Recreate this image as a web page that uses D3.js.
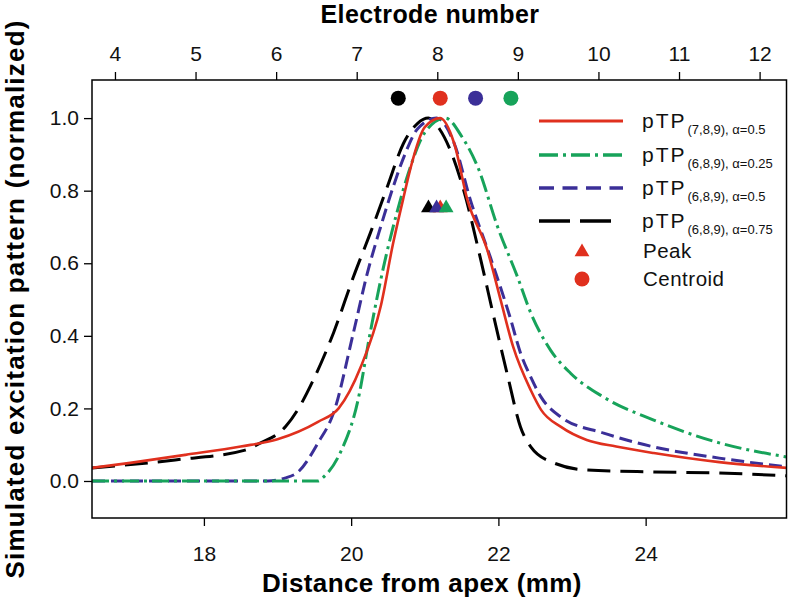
<!DOCTYPE html>
<html><head><meta charset="utf-8">
<script src="https://cdn.jsdelivr.net/npm/d3@7"></script>
<style>
body{margin:0;background:#fff;}
svg{display:block;font-family:"Liberation Sans",Arial,sans-serif;}
</style></head>
<body><svg id="chart" width="789" height="597"></svg>
<script>
// ---- data ----
const redX   = [16.48,17.0,17.75,18.5,19.0,19.55,19.83,20.13,20.4,20.57,20.71,20.81,21.0,21.21,21.4,21.58,21.85,22.03,22.2,22.44,22.58,22.85,23.2,23.6,24.11,25.0,25.92];
const redY   = [0.036,0.05,0.072,0.095,0.115,0.163,0.20,0.314,0.48,0.655,0.78,0.865,0.975,1.0,0.93,0.774,0.636,0.499,0.37,0.25,0.196,0.149,0.113,0.095,0.077,0.052,0.036];

const greenX = [16.48,19.55,19.62,19.85,20.09,20.26,20.44,20.63,20.78,21.0,21.28,21.5,21.72,21.99,22.26,22.44,22.71,22.98,23.43,24.11,25.0,25.92];
const greenY = [0,0,0.01,0.077,0.22,0.41,0.59,0.746,0.85,0.96,1.0,0.95,0.865,0.70,0.562,0.463,0.36,0.297,0.231,0.168,0.105,0.066];

const blueX  = [16.48,18.87,19.1,19.28,19.55,19.76,20.03,20.22,20.4,20.57,20.73,20.9,21.16,21.4,21.62,21.89,22.16,22.3,22.44,22.58,22.85,23.43,24.11,25.0,25.92];
const blueY  = [0,0,0.008,0.025,0.105,0.187,0.408,0.573,0.70,0.81,0.90,0.97,1.0,0.93,0.774,0.617,0.45,0.353,0.286,0.231,0.176,0.132,0.094,0.063,0.039];

const blackX = [16.48,17.61,18.56,18.75,19.11,19.3,19.49,19.76,20.03,20.26,20.49,20.71,20.9,21.05,21.2,21.35,21.53,21.76,21.94,22.13,22.3,22.44,22.75,23.21,24.11,25.0,25.92];
const blackY = [0.036,0.058,0.085,0.103,0.15,0.205,0.28,0.408,0.562,0.683,0.81,0.93,0.985,1.0,0.97,0.91,0.80,0.61,0.45,0.286,0.149,0.094,0.05,0.03,0.025,0.022,0.014];

const legendMain = ["pTP","pTP","pTP","pTP"];
const legendSub  = ["(7,8,9), α=0.5","(6,8,9), α=0.25","(6,8,9), α=0.5","(6,8,9), α=0.75"];
const peakX      = [21.21,21.29,21.16,21.05];   // red, green, blue, black
const peakLevel  = 0.755;
const centroidX  = [21.21,22.17,21.69,20.64];
const centroidLevel = 1.055;
const bottomTicks = [18,20,22,24];
const topTicks    = [4,5,6,7,8,9,10,11,12];
const leftTicks   = [0.0,0.2,0.4,0.6,0.8,1.0];

// ---- styles ----
const colors = ["#e0301e","#17a35a","#3b2f98","#000000"];
const dashes = [null,"17,5,3,5","13,6","23,10"];
const legendDashes = [null,"19,5,3,5","15,8.5","31,10"];
const legendEnd = [623,623,623,611];
const widths = [2.6,3,3,3];

const W=789,H=597;
const m={l:92,r:2,t:80,b:79};
const svg=d3.select("#chart");
const x=d3.scaleLinear().domain([16.48,25.92]).range([m.l,W-m.r]);
const xTop=d3.scaleLinear().domain([3.715,12.34]).range([m.l,W-m.r]);
const y=d3.scaleLinear().domain([-0.102,1.105]).range([H-m.b,m.t]);

svg.append("clipPath").attr("id","clip").append("rect")
  .attr("x",m.l).attr("y",m.t).attr("width",W-m.l-m.r).attr("height",H-m.t-m.b);

const data=[[redX,redY],[greenX,greenY],[blueX,blueY],[blackX,blackY]]
  .map(([xs,ys])=>xs.map((v,i)=>[v,ys[i]]));

const line=d3.line().x(d=>x(d[0])).y(d=>y(d[1])).curve(d3.curveMonotoneX);
const g=svg.append("g").attr("clip-path","url(#clip)");
[3,2,1,0].forEach(i=>{
  g.append("path").datum(data[i]).attr("d",line).attr("fill","none")
   .attr("stroke",colors[i]).attr("stroke-width",widths[i])
   .attr("stroke-dasharray",dashes[i]).attr("stroke-linecap","butt");
});

// markers
const tri=d3.symbol().type(d3.symbolTriangle).size(95);
[3,0,2,1].forEach(i=>{
  svg.append("path").attr("d",tri).attr("fill",colors[i])
    .attr("transform",`translate(${x(peakX[i])},${y(peakLevel)+1})`);
});
[3,0,2,1].forEach(i=>{
  svg.append("circle").attr("cx",x(centroidX[i])).attr("cy",y(centroidLevel)).attr("r",7.5).attr("fill",colors[i]);
});

// axes
const ax=svg.append("g");
const axBottom=ax.append("g").attr("transform",`translate(0,${H-m.b})`)
  .call(d3.axisBottom(x).tickValues(bottomTicks).tickSize(8).tickFormat(d3.format("d")));
axBottom.selectAll("text").attr("y",36).attr("dy","0.35em").attr("font-size",21);
const axTop=ax.append("g").attr("transform",`translate(0,${m.t})`)
  .call(d3.axisTop(xTop).tickValues(topTicks).tickSize(8).tickFormat(d3.format("d")));
axTop.selectAll("text").attr("y",-26).attr("dy","0.35em").attr("font-size",21);
const axLeft=ax.append("g").attr("transform",`translate(${m.l},0)`)
  .call(d3.axisLeft(y).tickValues(leftTicks).tickSize(8).tickFormat(d3.format(".1f")));
axLeft.selectAll("text").attr("x",-13).attr("font-size",21);
ax.selectAll(".domain").remove();
ax.selectAll(".tick line").attr("stroke","#000").attr("stroke-width",1.3);
ax.selectAll("text").attr("fill","#111").attr("font-family","'Liberation Sans',Arial,sans-serif");

svg.append("rect").attr("x",m.l).attr("y",m.t).attr("width",W-m.l-m.r-0.5).attr("height",H-m.t-m.b)
  .attr("fill","none").attr("stroke","#000").attr("stroke-width",1.5);

// titles
svg.append("text").attr("x",430).attr("y",23).attr("text-anchor","middle")
  .attr("font-size",25).attr("font-weight","bold").attr("letter-spacing",0.4).text("Electrode number");
svg.append("text").attr("x",422).attr("y",583).attr("dy","0.35em").attr("text-anchor","middle")
  .attr("font-size",26).attr("font-weight","bold").attr("letter-spacing",0.4).text("Distance from apex (mm)");
svg.append("text").attr("transform","translate(15,299) rotate(-90)").attr("dy","0.35em").attr("text-anchor","middle")
  .attr("font-size",26).attr("font-weight","bold").attr("letter-spacing",1.2).text("Simulated excitation pattern (normalized)");

// legend
const rowY=[121,155,188,221,251,279];
const lg=svg.append("g");
for(let i=0;i<4;i++){
  lg.append("line").attr("x1",539).attr("x2",legendEnd[i]).attr("y1",rowY[i]).attr("y2",rowY[i])
    .attr("stroke",colors[i]).attr("stroke-width",widths[i]+0.4).attr("stroke-dasharray",legendDashes[i]);
  const t=lg.append("text").attr("x",642).attr("y",rowY[i]+7).attr("fill","#111");
  t.append("tspan").attr("font-size",21).attr("letter-spacing",2).text(legendMain[i]);
  t.append("tspan").attr("font-size",13).attr("dx",1).attr("dy",6).text(legendSub[i]);
}
lg.append("path").attr("d",tri).attr("fill",colors[0]).attr("transform",`translate(582,${rowY[4]+1})`);
lg.append("text").attr("x",643).attr("y",rowY[4]).attr("dy","0.35em").attr("font-size",20.5).attr("letter-spacing",0.5).attr("fill","#111").text("Peak");
lg.append("circle").attr("cx",582).attr("cy",rowY[5]).attr("r",7.5).attr("fill",colors[0]);
lg.append("text").attr("x",643).attr("y",rowY[5]).attr("dy","0.35em").attr("font-size",20.5).attr("letter-spacing",0.5).attr("fill","#111").text("Centroid");
</script></body></html>
